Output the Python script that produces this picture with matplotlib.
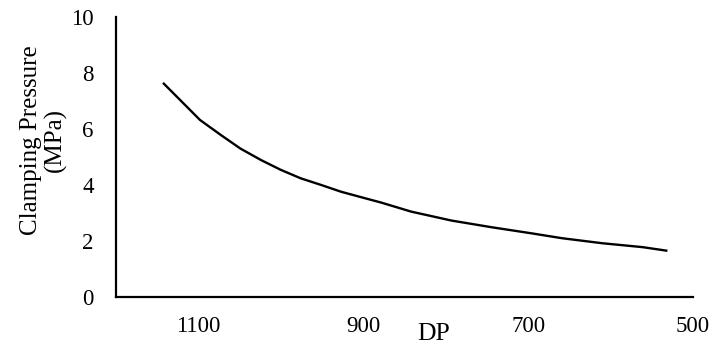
import matplotlib
matplotlib.use("Agg")
import matplotlib.pyplot as plt

dp = [1143, 1098, 1073, 1049, 1024, 1000, 976, 951, 927, 902, 878, 842, 793, 744, 695, 659, 610, 561, 531]
pressure = [7.65, 6.32, 5.79, 5.30, 4.89, 4.54, 4.24, 4.00, 3.76, 3.56, 3.37, 3.05, 2.73, 2.49, 2.27, 2.10, 1.92, 1.78, 1.65]
xticks = [1100, 900, 700, 500]
yticks = [0, 2, 4, 6, 8, 10]

plt.rcParams['font.family'] = ['Liberation Serif', 'DejaVu Serif']

fig = plt.figure(figsize=(7.12, 3.47), dpi=100)
ax = fig.add_axes([116/712, 1-297/347, (693-116)/712, (297-17)/347])
ax.plot(dp, pressure, color='black', lw=1.7, solid_joinstyle='round', solid_capstyle='butt')
ax.set_xlim(1200, 500)
ax.set_ylim(0, 10)
ax.set_xticks(xticks)
ax.set_yticks(yticks)
ax.tick_params(axis='both', length=0, labelsize=16.5)
ax.tick_params(axis='x', pad=14)
ax.tick_params(axis='y', pad=16)
for s in ['top', 'right']:
    ax.spines[s].set_visible(False)
for s in ['left', 'bottom']:
    ax.spines[s].set_linewidth(1.6)
    ax.spines[s].set_color('black')

fig.text(434/712, 1-334/347, 'DP', ha='center', va='center', fontsize=18.5)
fig.text(43/712, 1-140/347, 'Clamping Pressure\n(MPa)', rotation=90, ha='center', va='center',
         multialignment='center', fontsize=18, linespacing=1.1)

fig.savefig('out.png', dpi=100)
